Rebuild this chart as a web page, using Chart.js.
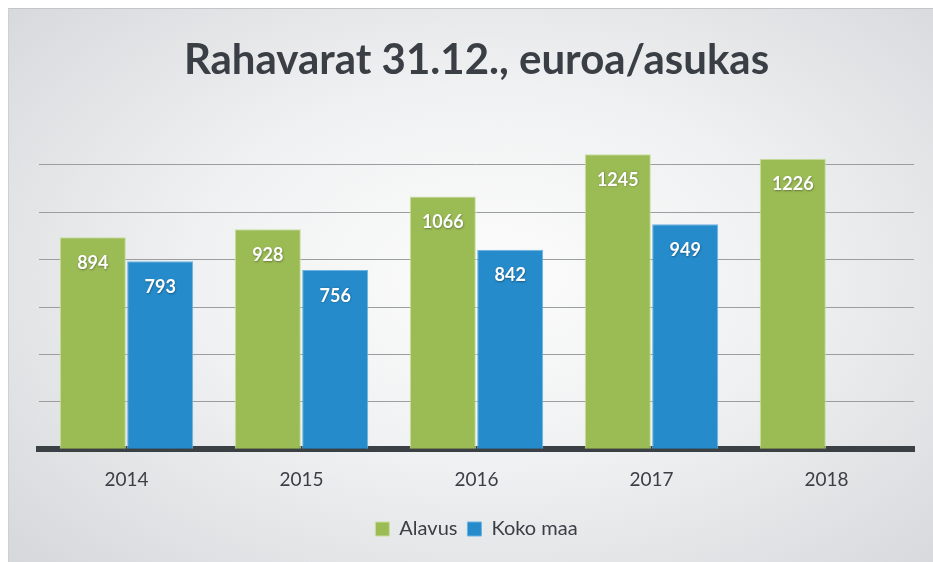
<!DOCTYPE html>
<html>
<head>
<meta charset="utf-8">
<script src="https://cdn.jsdelivr.net/npm/chart.js@4/dist/chart.umd.min.js"></script>
<style>
  html, body { margin: 0; padding: 0; background: #ffffff; }
  #panel {
    position: absolute; left: 8px; top: 8px; width: 925px; height: 554px;
    background: radial-gradient(ellipse 70% 75% at 52% 48%, #fcfcfc 0%, #f0f1f2 45%, #d6d8db 100%);
    border-top: 1px solid #c4c5c7; border-left: 1px solid #cfd0d2;
    box-sizing: border-box;
  }
  #wrap { position: absolute; left: 0; top: 0; width: 924px; height: 553px; }
</style>
</head>
<body>
<div id="panel"><div id="wrap"><canvas id="c"></canvas></div></div>
<script>
const categories = ["2014", "2015", "2016", "2017", "2018"];
const alavus = [894, 928, 1066, 1245, 1226];
const kokoMaa = [793, 756, 842, 949, null];
const seriesNames = ["Alavus", "Koko maa"];
const titleText = "Rahavarat 31.12., euroa/asukas";

const valueLabels = {
  id: 'valueLabels',
  afterDatasetsDraw(chart) {
    const ctx = chart.ctx;
    ctx.save();
    ctx.font = 'bold 18px Lato';
    ctx.fillStyle = '#ffffff';
    ctx.textAlign = 'center';
    ctx.textBaseline = 'middle';
    ctx.shadowColor = 'rgba(0,0,0,0.35)';
    ctx.shadowBlur = 2;
    ctx.shadowOffsetX = 0.5;
    ctx.shadowOffsetY = 0.5;
    chart.data.datasets.forEach((ds, i) => {
      const meta = chart.getDatasetMeta(i);
      meta.data.forEach((bar, j) => {
        const v = ds.data[j];
        if (v === null || v === undefined) return;
        ctx.fillText(String(v), bar.x, bar.y + 26);
      });
    });
    ctx.restore();
  }
};

new Chart(document.getElementById('c'), {
  type: 'bar',
  data: {
    labels: categories,
    datasets: [
      { label: seriesNames[0], data: alavus, backgroundColor: '#9bbb55', borderColor: '#c9df9f', borderWidth: 1 },
      { label: seriesNames[1], data: kokoMaa, backgroundColor: '#258bca', borderColor: '#6db3e2', borderWidth: 1 }
    ]
  },
  options: {
    responsive: true,
    maintainAspectRatio: false,
    animation: false,
    datasets: { bar: { categoryPercentage: 0.77, barPercentage: 0.98 } },
    layout: { padding: { left: 30, right: 19, top: 0, bottom: 13 } },
    plugins: {
      title: {
        display: true, text: titleText,
        font: { family: 'Lato', size: 42, weight: 'bold' },
        color: '#3a3f45',
        padding: { top: 26, bottom: 32 }
      },
      legend: {
        position: 'bottom',
        labels: {
          font: { family: 'Lato', size: 20 }, color: '#3a3f45',
          boxWidth: 14, boxHeight: 14, padding: 10
        }
      },
      tooltip: { enabled: false }
    },
    scales: {
      x: {
        z: 1,
        grid: { display: false },
        border: { display: true, color: '#3b4045', width: 6 },
        ticks: { font: { family: 'Lato', size: 19 }, color: '#3a3f45', padding: 11 },
        afterFit: (scale) => { scale.height += 7; }
      },
      y: {
        min: 0, max: 1400,
        ticks: { display: false, stepSize: 200 },
        border: { display: false },
        grid: {
          drawTicks: false,
          color: (c) => (c.tick && (c.tick.value === 0 || c.tick.value === 1400)) ? 'rgba(0,0,0,0)' : '#9c9d9f',
          lineWidth: 1
        }
      }
    }
  },
  plugins: [valueLabels]
});
</script>
</body>
</html>
